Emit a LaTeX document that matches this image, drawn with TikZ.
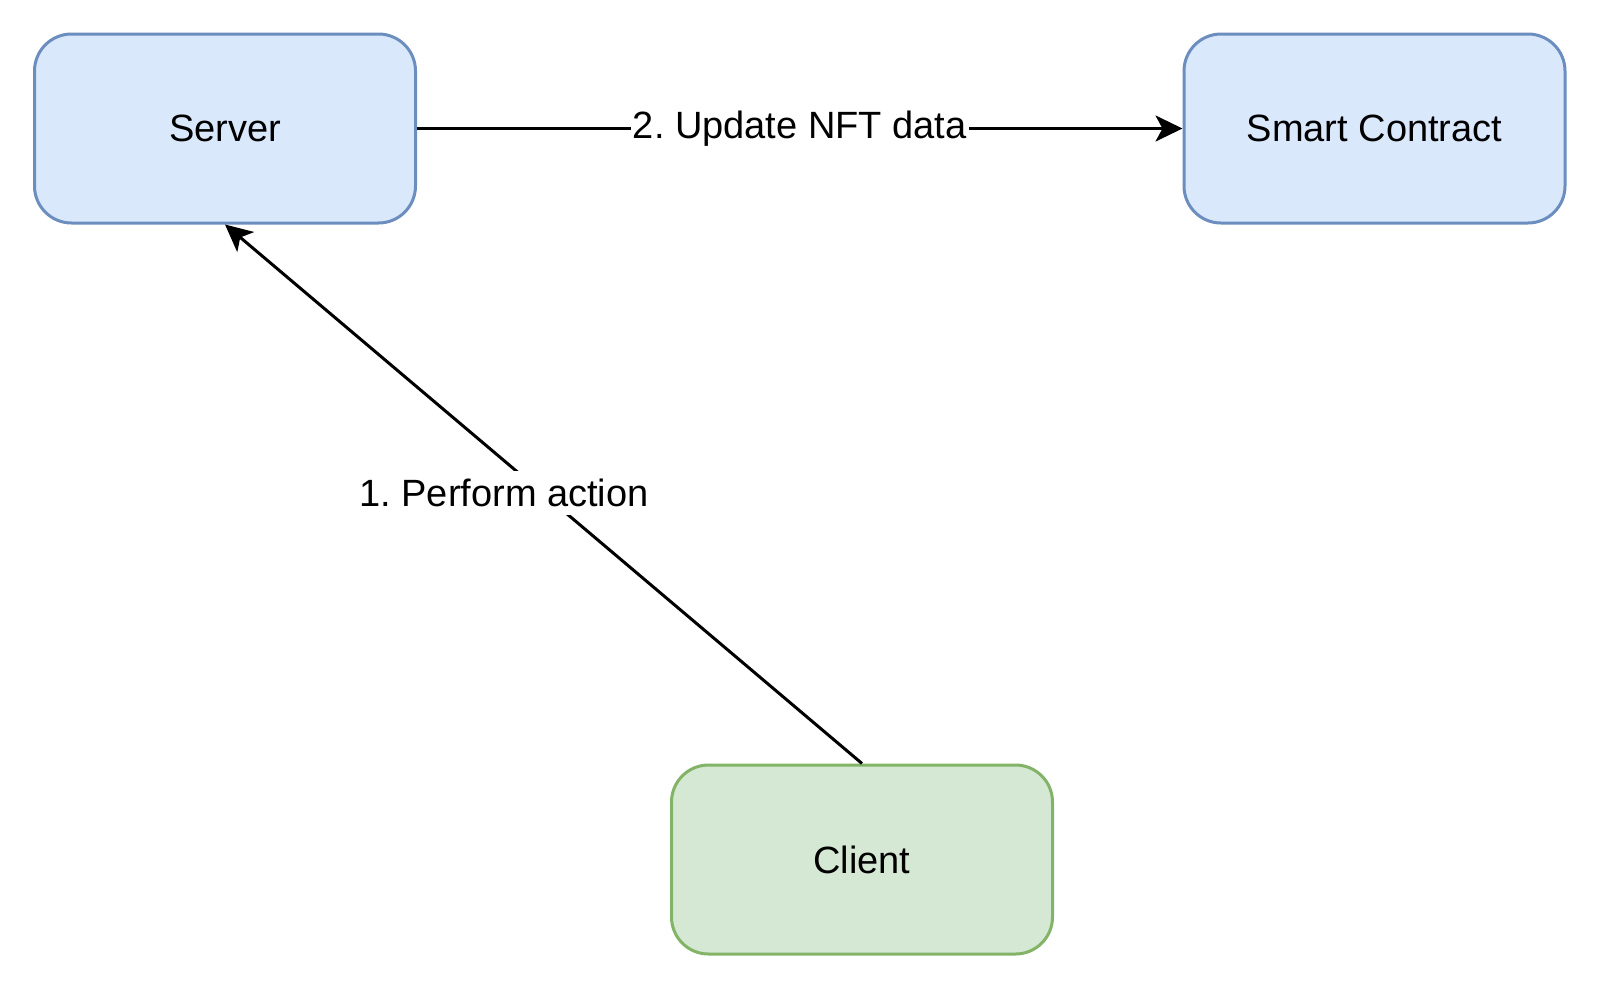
\documentclass[tikz,border=0pt]{standalone}
\usepackage{fontspec}
\setmainfont{Liberation Sans}
\usetikzlibrary{arrows.meta}
\frenchspacing
\definecolor{bluefill}{HTML}{DAE8FC}
\definecolor{bluedraw}{HTML}{6C8EBF}
\definecolor{greenfill}{HTML}{D5E8D4}
\definecolor{greendraw}{HTML}{82B366}
\tikzset{
  box/.style={rectangle, rounded corners=37pt, line width=3pt, minimum width=381pt, minimum height=189pt, font=\fontsize{38}{45}\selectfont, inner sep=0pt},
  bluebox/.style={box, fill=bluefill, draw=bluedraw},
  greenbox/.style={box, fill=greenfill, draw=greendraw},
  arr/.style={line width=3pt, -{Stealth[length=27pt, width=26pt, inset=7pt]}},
  lbl/.style={fill=white, inner xsep=2pt, inner ysep=8pt, font=\fontsize{38}{45}\selectfont}
}
\begin{document}
\begin{tikzpicture}[x=1pt,y=-1pt]
\useasboundingbox (0,0) rectangle (1600,989);
\node[bluebox] (server) at (225,128.5) {Server};
\node[bluebox] (sc) at (1374.5,128.5) {Smart Contract};
\node[greenbox] (client) at (862,859.5) {Client};
\draw[arr] (server.east) -- node[lbl, inner ysep=2pt] (l2) {2. Update NFT data} (sc.west);
\draw[arr] (client.north) -- (server.south);
\node[lbl] (l1) at (504,493) {1. Perform action};
\end{tikzpicture}
\end{document}
